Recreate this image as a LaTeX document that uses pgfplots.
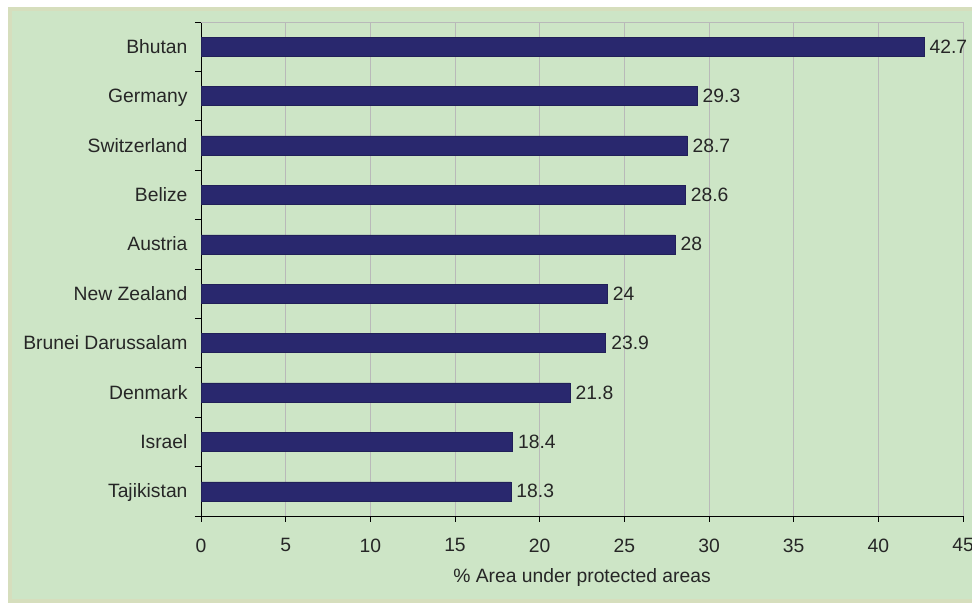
\documentclass[border=0pt]{standalone}
\usepackage{pgfplots}
\pgfplotsset{compat=1.18}
\usepackage{fontspec}
\setmainfont{Liberation Sans}
\definecolor{bgreen}{RGB}{205,229,198}
\definecolor{btan}{RGB}{214,222,189}
\definecolor{navy}{RGB}{41,40,110}
\definecolor{txt}{RGB}{38,38,38}
\definecolor{gridc}{RGB}{185,185,185}
\begin{document}
\begin{tikzpicture}[x=1pt,y=1pt]
\path[use as bounding box] (0,0) rectangle (972,605);
\fill[white] (0,0) rectangle (972,605);
\filldraw[fill=bgreen,draw=btan,line width=4pt] (10,4) rectangle (985,596);
\begin{axis}[
  at={(201pt,89pt)}, anchor=south west,
  scale only axis, width=762pt, height=494pt,
  xmin=0, xmax=45, ymin=-0.5, ymax=9.5,
  xbar, bar width=19pt,
  axis lines*=left,
  axis line style={black, line width=0.9pt},
  tick align=outside,
  xtick={0,5,...,45},
  xmajorgrids, major grid style={gridc, line width=0.8pt},
  major tick length=6pt,
  tick style={black, line width=0.9pt},
  ytick={-0.5,0.5,...,9.5},
  yticklabels={},
  extra y ticks={0,1,2,3,4,5,6,7,8,9},
  extra y tick labels={Tajikistan,Israel,Denmark,Brunei Darussalam,New Zealand,Austria,Belize,Switzerland,Germany,Bhutan},
  extra y tick style={major tick length=0pt, yticklabel style={xshift=-10pt, yshift=-3pt, text height=0.716em, text depth=0pt}},
  /pgf/number format/assume math mode=true,
  ticklabel style={font=\fontsize{19.3}{21}\selectfont, text=txt},
  xticklabel style={yshift=-13pt},
  xlabel={\% Area under protected areas},
  xlabel style={font=\fontsize{19.3}{21}\selectfont, text=txt, at={(axis description cs:0.5,0)}, anchor=center, yshift=-62pt},
  nodes near coords,
  every node near coord/.append style={font=\fontsize{19.3}{21}\selectfont, text=txt, xshift=2pt, yshift=-3pt, text height=0.716em, text depth=0pt},
  clip=false,
]
\addplot[fill=navy, draw=navy!80!black, line width=0.5pt] coordinates {
(18.3,0) (18.4,1) (21.8,2) (23.9,3) (24,4) (28,5) (28.6,6) (28.7,7) (29.3,8) (42.7,9)};
\draw[gridc, line width=0.8pt] (rel axis cs:0,1) -- (rel axis cs:1,1);
\end{axis}
\end{tikzpicture}
\end{document}
